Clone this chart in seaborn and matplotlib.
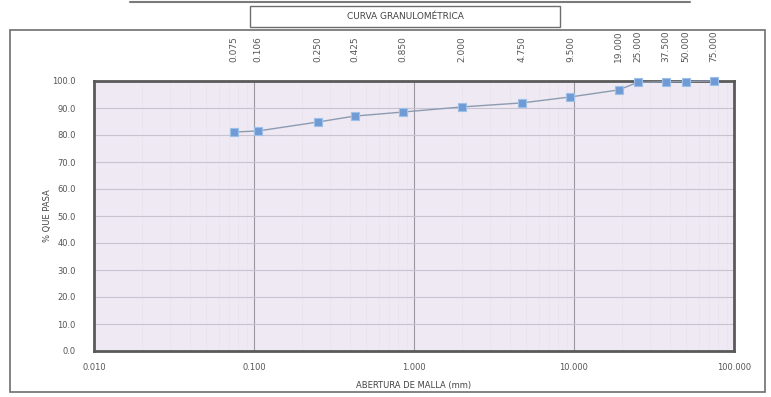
import matplotlib
matplotlib.use("Agg")
import matplotlib.pyplot as plt
from matplotlib.patches import Rectangle
from matplotlib.lines import Line2D
from matplotlib.ticker import FixedLocator, NullFormatter, LogLocator
import seaborn as sns
import pandas as pd

# ---- data ----
sieve_mm = [0.075, 0.106, 0.250, 0.425, 0.850, 2.000, 4.750, 9.500,
            19.000, 25.000, 37.500, 50.000, 75.000]
sieve_labels = ["0.075", "0.106", "0.250", "0.425", "0.850", "2.000", "4.750",
                "9.500", "19.000", "25.000", "37.500", "50.000", "75.000"]
pct_passing = [81.1, 81.5, 84.8, 87.0, 88.5, 90.4, 91.9, 94.1,
               96.7, 99.5, 99.7, 99.8, 100.0]
x_ticks = [0.01, 0.1, 1, 10, 100]
x_tick_labels = ["0.010", "0.100", "1.000", "10.000", "100.000"]
y_ticks = [0, 10, 20, 30, 40, 50, 60, 70, 80, 90, 100]
y_tick_labels = ["0.0", "10.0", "20.0", "30.0", "40.0", "50.0", "60.0",
                 "70.0", "80.0", "90.0", "100.0"]

df = pd.DataFrame({"abertura": sieve_mm, "pasa": pct_passing})

sns.set_theme(style="white")
plt.rcParams["font.family"] = ["Liberation Sans Narrow", "DejaVu Sans"]

W, H = 771, 397
fig = plt.figure(figsize=(W / 100, H / 100), dpi=100)
fig.patch.set_facecolor("white")

# outer frame and title box
fig.add_artist(Rectangle((10 / W, 1 - 392 / H), 755 / W, 362 / H, transform=fig.transFigure,
                         fill=False, edgecolor="#6e6e6e", linewidth=1.2))
fig.add_artist(Rectangle((250 / W, 1 - 27 / H), 310 / W, 21 / H, transform=fig.transFigure,
                         fill=False, edgecolor="#6e6e6e", linewidth=1.0))
fig.add_artist(Line2D([130 / W, 690 / W], [1 - 1.5 / H, 1 - 1.5 / H], transform=fig.transFigure,
                      color="#7a7a7a", linewidth=1.5))
fig.text(405 / W, 1 - 16.5 / H, "CURVA GRANULOMÉTRICA", ha="center", va="center",
         fontsize=6.5, color="#444444")

ax = fig.add_axes([94 / W, 1 - 351 / H, 640 / W, 270 / H])
ax.set_facecolor("#eee9f3")

sns.lineplot(data=df, x="abertura", y="pasa", ax=ax, color="#8d9bb0", linewidth=1.0,
             marker="s", markersize=5.5, markerfacecolor="#6f9ad3",
             markeredgecolor="#9cc0ea", markeredgewidth=0.8, zorder=5, clip_on=False)

ax.set_xscale("log")
ax.set_xlim(0.01, 100)
ax.set_ylim(0, 100)

ax.xaxis.set_major_locator(FixedLocator(x_ticks))
ax.set_xticks(x_ticks)
ax.set_xticklabels(x_tick_labels)
ax.xaxis.set_minor_locator(LogLocator(base=10, subs=range(2, 10)))
ax.xaxis.set_minor_formatter(NullFormatter())
ax.set_yticks(y_ticks)
ax.set_yticklabels(y_tick_labels)

ax.grid(axis="y", which="major", color="#c9c2cf", linewidth=0.8)
ax.grid(axis="x", which="major", color="#9a979e", linewidth=0.8)
ax.grid(axis="x", which="minor", color="#e6e1eb", linewidth=0.4)
ax.set_axisbelow(True)

ax.tick_params(axis="both", which="both", length=0, labelsize=6, labelcolor="#555555")
ax.tick_params(axis="x", pad=9)
ax.tick_params(axis="y", pad=13)

ax.set_xlabel("ABERTURA DE MALLA (mm)", fontsize=6, color="#444444", labelpad=6)
ax.set_ylabel("% QUE PASA", fontsize=6, color="#444444", labelpad=0)

for s in ax.spines.values():
    s.set_color("#5a5a5a")
    s.set_linewidth(2.0)
    s.set_visible(True)

# top secondary axis with sieve sizes
ax2 = ax.twiny()
ax2.set_xscale("log")
ax2.set_xlim(ax.get_xlim())
ax2.set_xticks(sieve_mm)
ax2.set_xticklabels(sieve_labels, rotation=90)
ax2.xaxis.set_minor_formatter(NullFormatter())
ax2.tick_params(axis="x", which="both", length=0, labelsize=6.5, labelcolor="#555555", pad=13.5)
for s in ax2.spines.values():
    s.set_visible(False)
ax2.grid(False)

fig.savefig("out.png", dpi=100, facecolor="white")
